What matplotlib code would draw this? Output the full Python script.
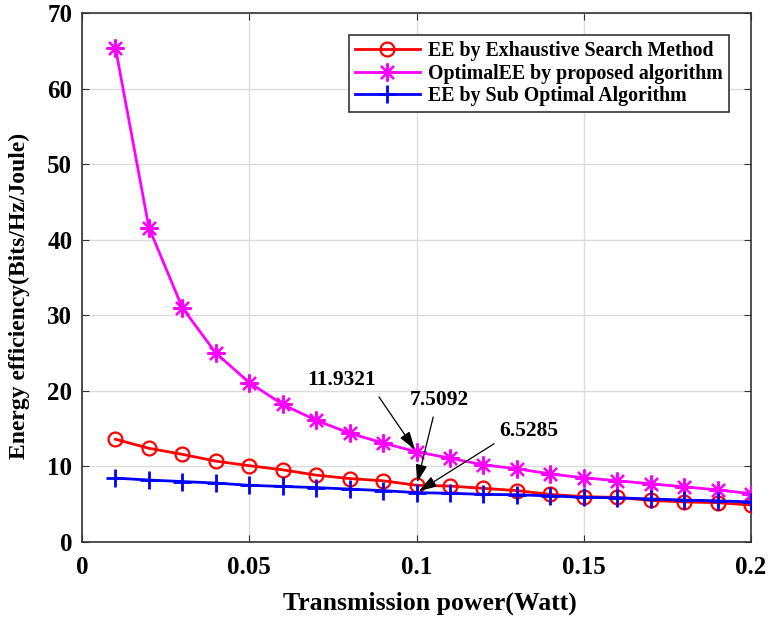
import matplotlib
matplotlib.use("Agg")
import matplotlib.pyplot as plt
import numpy as np

power = [0.01, 0.02, 0.03, 0.04, 0.05, 0.06, 0.07, 0.08, 0.09, 0.10,
         0.11, 0.12, 0.13, 0.14, 0.15, 0.16, 0.17, 0.18, 0.19, 0.20]
ee_exhaustive = [13.6, 12.4, 11.6, 10.7, 10.1, 9.55, 8.85, 8.4, 8.1, 7.5092,
                 7.4, 7.1, 6.8, 6.3, 6.0, 5.9, 5.5, 5.3, 5.2, 4.9]
ee_proposed = [65.4, 41.6, 31.0, 25.0, 21.1, 18.2, 16.1, 14.4, 13.1, 11.9321,
               11.1, 10.2, 9.7, 9.0, 8.5, 8.1, 7.7, 7.3, 6.9, 6.4]
ee_suboptimal = [8.45, 8.2, 8.0, 7.8, 7.5, 7.35, 7.2, 7.0, 6.8, 6.5285,
                 6.45, 6.3, 6.25, 6.1, 5.9, 5.85, 5.7, 5.55, 5.45, 5.3]
labels = ["EE by Exhaustive Search Method",
          "OptimalEE by proposed algorithm",
          "EE by Sub Optimal Algorithm"]
x_ticks = [0, 0.05, 0.1, 0.15, 0.2]
x_ticklabels = ["0", "0.05", "0.1", "0.15", "0.2"]
y_ticks = [0, 10, 20, 30, 40, 50, 60, 70]

plt.rcParams['font.family'] = ['Liberation Serif', 'DejaVu Serif']
plt.rcParams['font.weight'] = 'bold'

fig = plt.figure(figsize=(7.69, 6.19), dpi=100)
W, H = 769, 619
L, R, T, B = 82, 751, 13, 542
ax = fig.add_axes([L / W, (H - B) / H, (R - L) / W, (B - T) / H])

ax.plot(power, ee_exhaustive, color='#ff0000', lw=2, marker='o', ms=10,
        mfc='none', mec='#ff0000', mew=1.6, label=labels[0], zorder=3)
ax.plot(power, ee_proposed, color='#ff00ff', lw=2, marker=(8, 2, 0), ms=13,
        mfc='#ff00ff', mec='#ff00ff', mew=1.6, label=labels[1], zorder=3)
ax.plot(power, ee_suboptimal, color='#0000ff', lw=2, marker='+', ms=13,
        mew=2, label=labels[2], zorder=3)

ax.set_xlim(0, 0.2)
ax.set_ylim(0, 70)
ax.set_xticks(x_ticks)
ax.set_xticklabels(x_ticklabels)
ax.set_yticks(y_ticks)
ax.grid(True, color='#dcdcdc', lw=1)
ax.set_axisbelow(True)
for s in ax.spines.values():
    s.set_color('#333333')
    s.set_linewidth(1.2)
ax.tick_params(direction='in', top=True, right=True, length=5,
               labelsize=18, colors='#333333', labelcolor='black')
ax.tick_params(axis='x', pad=10)
ax.tick_params(axis='y', pad=7)
for lab in ax.get_xticklabels() + ax.get_yticklabels():
    lab.set_fontweight('bold')

ax.set_xlabel("Transmission power(Watt)", fontsize=18.5, fontweight='bold')
ax.set_ylabel("Energy efficiency(Bits/Hz/Joule)", fontsize=17, fontweight='bold')
ax.xaxis.set_label_coords(0.52, -0.094)
ax.yaxis.set_label_coords(-0.077, 0.465)

leg = ax.legend(loc='upper right', bbox_to_anchor=(0.967, 0.958), borderaxespad=0,
                fancybox=False, edgecolor='#333333', framealpha=1,
                prop={'size': 14.3, 'weight': 'bold'},
                handlelength=3.3, borderpad=0.3, labelspacing=0.12, handletextpad=0.4)
leg.get_frame().set_linewidth(1.2)

arrow_kw = dict(arrowstyle='-|>,head_length=1.1,head_width=0.35', color='black', lw=0.9)
# annotations: (text, text pos, arrow tail, head)
ann = [("11.9321", (0.0776, 21.4), (0.0883, 19.5), (0.1, ee_proposed[9])),
       ("7.5092", (0.1067, 18.8), (0.1052, 16.9), (0.1, ee_exhaustive[9])),
       ("6.5285", (0.1336, 14.7), (0.1239, 13.2), (0.1, ee_suboptimal[9]))]
for txt, tpos, tail, head in ann:
    ax.annotate('', xy=head, xytext=tail, arrowprops=arrow_kw, zorder=5)
    ax.text(tpos[0], tpos[1], txt, ha='center', va='center', fontsize=15.5,
            fontweight='bold', zorder=5)

fig.savefig("out.png", dpi=100)
